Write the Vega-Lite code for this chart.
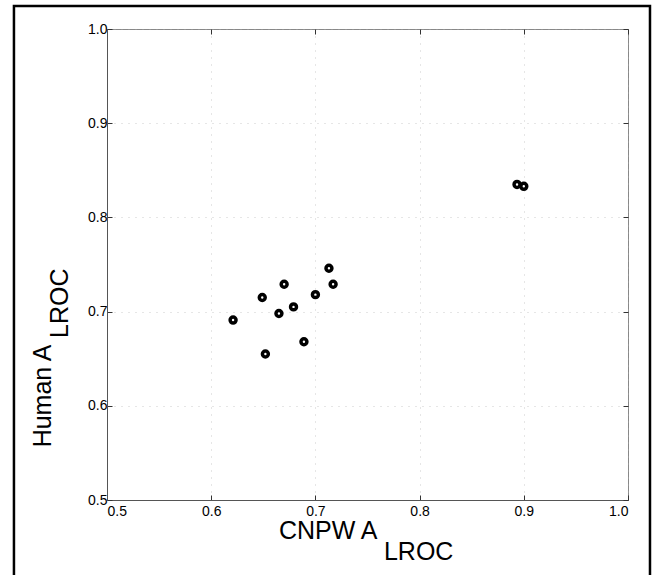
{
  "$schema": "https://vega.github.io/schema/vega-lite/v6.json",
  "width": 521,
  "height": 471,
  "autosize": {"type": "none"},
  "padding": {"left": 107, "top": 29, "right": 25, "bottom": 75},
  "background": "white",
  "config": {
    "view": {"stroke": "#888", "strokeWidth": 1},
    "font": "Liberation Sans",
    "axis": {
      "labelFont": "Liberation Sans",
      "labelFontSize": 14,
      "labelColor": "black",
      "titleFont": "Liberation Sans",
      "titleFontSize": 25,
      "titleFontWeight": "normal",
      "titleColor": "black",
      "domainColor": "#555",
      "tickColor": "#333",
      "tickSize": -5,
      "gridColor": "#aaa",
      "gridDash": [1, 6],
      "gridOpacity": 0.6
    }
  },
  "data": {
    "values": [
      {"cnpw": 0.621, "human": 0.691},
      {"cnpw": 0.649, "human": 0.715},
      {"cnpw": 0.652, "human": 0.655},
      {"cnpw": 0.670, "human": 0.729},
      {"cnpw": 0.665, "human": 0.698},
      {"cnpw": 0.679, "human": 0.705},
      {"cnpw": 0.689, "human": 0.668},
      {"cnpw": 0.700, "human": 0.718},
      {"cnpw": 0.713, "human": 0.746},
      {"cnpw": 0.717, "human": 0.729},
      {"cnpw": 0.8935, "human": 0.835},
      {"cnpw": 0.900, "human": 0.833}
    ]
  },
  "resolve": {"axis": {"x": "independent", "y": "independent"}},
  "layer": [
    {
      "mark": {"type": "point", "shape": "circle", "filled": false, "stroke": "black", "strokeWidth": 3.5, "size": 35, "opacity": 1},
      "encoding": {
        "x": {
          "field": "cnpw", "type": "quantitative",
          "scale": {"domain": [0.5, 1.0], "nice": false, "zero": false},
          "axis": {
            "values": [0.5, 0.6, 0.7, 0.8, 0.9, 1.0], "format": ".1f",
            "labelPadding": 9, "title": "CNPW A",
            "titleX": 270, "titleY": 38, "titleBaseline": "alphabetic", "titleAlign": "right",
            "grid": true
          }
        },
        "y": {
          "field": "human", "type": "quantitative",
          "scale": {"domain": [0.5, 1.0], "nice": false, "zero": false},
          "axis": {
            "values": [0.5, 0.6, 0.7, 0.8, 0.9, 1.0], "format": ".1f",
            "labelPadding": 5, "title": "Human A",
            "titleAngle": 270, "titleX": -57, "titleY": 315, "titleBaseline": "alphabetic", "titleAlign": "right",
            "grid": true
          }
        }
      }
    },
    {
      "mark": {"type": "point", "opacity": 0},
      "encoding": {
        "x": {
          "field": "cnpw", "type": "quantitative",
          "axis": {"orient": "top", "values": [0.5, 0.6, 0.7, 0.8, 0.9, 1.0], "labels": false, "title": null, "domain": false, "grid": false}
        },
        "y": {
          "field": "human", "type": "quantitative",
          "axis": {"orient": "right", "values": [0.5, 0.6, 0.7, 0.8, 0.9, 1.0], "labels": false, "title": null, "domain": false, "grid": false}
        }
      }
    },
    {
      "data": {"values": [{"label": "LROC"}]},
      "mark": {"type": "text", "fontSize": 25, "fontWeight": "normal", "font": "Liberation Sans", "align": "left", "baseline": "alphabetic", "fill": "black"},
      "encoding": {
        "text": {"field": "label"},
        "x": {"datum": 0.7658, "type": "quantitative", "axis": null},
        "y": {"datum": 0.4363, "type": "quantitative", "axis": null}
      }
    },
    {
      "data": {"values": [{"label": "LROC"}]},
      "mark": {"type": "text", "fontSize": 25, "fontWeight": "normal", "font": "Liberation Sans", "align": "left", "baseline": "alphabetic", "angle": 270, "fill": "black"},
      "encoding": {
        "text": {"field": "label"},
        "x": {"datum": 0.4626, "type": "quantitative", "axis": null},
        "y": {"datum": 0.6720, "type": "quantitative", "axis": null}
      }
    },
    {
      "data": {"values": [{"frame": 1}]},
      "mark": {"type": "rect", "fill": null, "fillOpacity": 0, "stroke": "black", "strokeWidth": 2.5},
      "encoding": {
        "x": {"datum": 0.4107, "type": "quantitative", "axis": null},
        "x2": {"datum": 1.0211},
        "y": {"datum": 1.0244, "type": "quantitative", "axis": null},
        "y2": {"datum": 0.40}
      }
    }
  ]
}
